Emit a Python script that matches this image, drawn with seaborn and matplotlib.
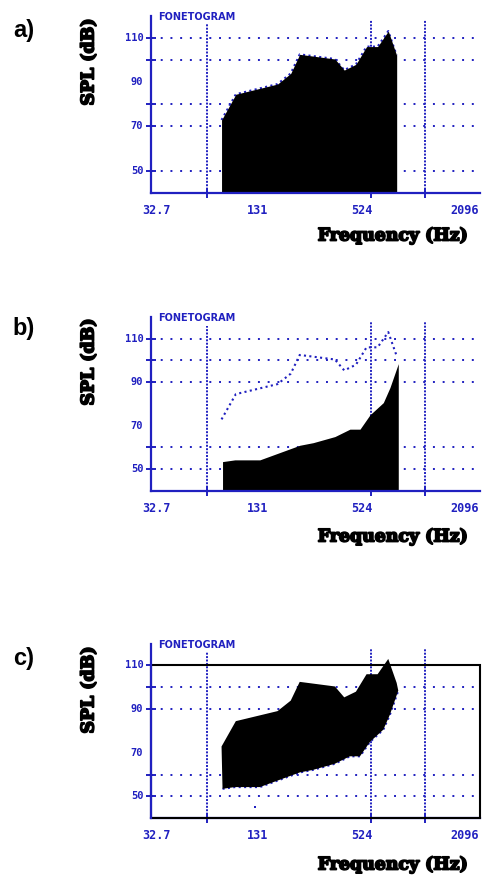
import matplotlib
matplotlib.use("Agg")
import matplotlib.pyplot as plt
import matplotlib.patheffects as pe
from matplotlib.patches import Rectangle
from matplotlib.ticker import NullLocator, FixedLocator, NullFormatter
import pandas as pd
import seaborn as sns

# ---- voice range profile data (frequency in Hz, SPL in dB) ----
upper_freq = [78.9, 94.6, 160.7, 190, 213, 333, 375, 435, 498, 573, 656, 730]
upper_spl = [72.9, 84.5, 89.1, 93.9, 102.5, 100.4, 95.4, 98.0, 106.0, 106.0, 113.0, 102.0]

lower_freq = [79.9, 93.4, 128.3, 213, 252.7, 333, 403, 458, 520, 616, 670, 745]
lower_spl = [53.5, 54.3, 54.3, 61.0, 62.2, 65.0, 68.4, 68.4, 75.0, 80.6, 87.5, 98.5]

stray_freq = [120]
stray_spl = [45.1]

# axis annotation
x_label_vals = [32.7, 131, 524, 2096]
x_label_text = ["32.7", "131", "524", "2096"]
x_grid_vals = [65.4, 524, 1048]
y_label_vals = [110, 90, 70, 50]
y_label_text = ["110", "90", "70", "50"]
y_grid_a = [110, 100, 80, 70, 50]
y_grid_bc = [110, 100, 90, 60, 50]
panel_names = ["a)", "b)", "c)"]

upper = pd.DataFrame({"freq": upper_freq, "spl": upper_spl})
lower = pd.DataFrame({"freq": lower_freq, "spl": lower_spl})

sns.set_theme(style="white")
plt.rcParams["font.family"] = ["DejaVu Sans"]
plt.rcParams["text.color"] = "black"

BLUE = "#2020c0"
W, H = 486, 876
fig = plt.figure(figsize=(W / 100, H / 100), dpi=100)
fig.patch.set_facecolor("white")

XMIN, XMAX = 32.2, 2104
YMIN, YMAX = 40, 120

# pixel layout of the three panels: (x-axis row, px per dB, label rows)
layout = [
    dict(base=192.9, scale=2.217, tag_y=31, spl_y=62, freq_y=236, grid=y_grid_a),
    dict(base=491.0, scale=2.177, tag_y=328, spl_y=362, freq_y=537, grid=y_grid_bc),
    dict(base=818.3, scale=2.183, tag_y=658, spl_y=690, freq_y=865, grid=y_grid_bc),
]

heavy = [pe.withStroke(linewidth=1.3, foreground="black")]
x_off = [3, -3, -6.5, -11]

for i, cfg in enumerate(layout):
    h_px = (YMAX - YMIN) * cfg["scale"]
    ax = fig.add_axes([151 / W, (H - cfg["base"]) / H, 329 / W, h_px / H])
    ax.set_facecolor("none")
    ax.set_xscale("log", base=2)
    ax.set_xlim(XMIN, XMAX)
    ax.set_ylim(YMIN, YMAX)

    # dotted reference grid
    for yv in cfg["grid"]:
        ax.plot([XMIN, XMAX], [yv, yv], color=BLUE, lw=1.4,
                linestyle=(0, (1, 4)), zorder=1)
    for k, xv in enumerate(x_grid_vals):
        top = 116 if k == 0 else 118
        ax.plot([xv, xv], [YMIN, top], color=BLUE, lw=1.4,
                linestyle=(0, (1, 0.75)), zorder=1)

    # contours
    if i == 0:
        ax.fill_between(upper["freq"], YMIN, upper["spl"], color="black",
                        lw=0, zorder=2)
        sns.lineplot(data=upper, x="freq", y="spl", ax=ax, color=BLUE, lw=1.5,
                     linestyle=(0, (1, 1.6)), sort=False, zorder=1.5)
    elif i == 1:
        ax.fill_between(lower["freq"], YMIN, lower["spl"], color="black",
                        lw=0, zorder=2)
        sns.lineplot(data=upper, x="freq", y="spl", ax=ax, color=BLUE, lw=1.5,
                     linestyle=(0, (1, 1.6)), sort=False, zorder=3)
    else:
        poly_x = list(upper["freq"]) + list(lower["freq"][::-1])
        poly_y = list(upper["spl"]) + list(lower["spl"][::-1])
        ax.fill(poly_x, poly_y, color="black", lw=0, zorder=2)
        sns.lineplot(data=lower, x="freq", y="spl", ax=ax, color=BLUE, lw=1.5,
                     linestyle=(0, (1, 1.6)), sort=False, zorder=1.5)
        ax.scatter(stray_freq, stray_spl, s=4, marker="s", color=BLUE,
                   lw=0, zorder=3)
        ax.add_patch(Rectangle((XMIN, YMIN), XMAX - XMIN, 110 - YMIN,
                               fill=False, edgecolor="black", lw=1.5,
                               zorder=2.6, clip_on=False))

    # axes lines
    for s in ["top", "right"]:
        ax.spines[s].set_visible(False)
    for s in ["left", "bottom"]:
        ax.spines[s].set_color(BLUE)
        ax.spines[s].set_linewidth(1.6)
    ax.spines["left"].set_zorder(3)

    ax.xaxis.set_major_locator(FixedLocator(x_grid_vals))
    ax.xaxis.set_major_formatter(NullFormatter())
    ax.xaxis.set_minor_locator(NullLocator())
    ax.set_yticks(cfg["grid"])
    ax.set_yticklabels([])
    ax.tick_params(axis="both", which="major", direction="inout", length=7,
                   width=1.4, color=BLUE, left=True, bottom=True)
    ax.set_xlabel("")
    ax.set_ylabel("")

    # tick labels
    for xv, txt, dx in zip(x_label_vals, x_label_text, x_off):
        ax.annotate(txt, xy=(xv, YMIN), xycoords="data", xytext=(dx, -12.7),
                    textcoords="offset points", ha="center", va="center",
                    fontsize=8.5, color=BLUE, family="DejaVu Sans Mono",
                    weight="bold", annotation_clip=False)
    for yv, txt in zip(y_label_vals, y_label_text):
        ax.annotate(txt, xy=(0, yv), xycoords=("axes fraction", "data"),
                    xytext=(-5.5, 0), textcoords="offset points",
                    ha="right", va="center", fontsize=7.5, color=BLUE,
                    family="DejaVu Sans Mono", weight="bold",
                    annotation_clip=False)

    ax.annotate("FONETOGRAM", xy=(0, 1), xycoords="axes fraction",
                xytext=(5, -1), textcoords="offset points", ha="left",
                va="center", fontsize=7, color=BLUE, weight="bold",
                annotation_clip=False)

    # panel tag and axis titles
    fig.text(24 / W, 1 - cfg["tag_y"] / H, panel_names[i], fontsize=17,
             weight="bold", family="Liberation Sans", ha="center",
             va="center", color="black")
    fig.text(89 / W, 1 - cfg["spl_y"] / H, "SPL (dB)", rotation=90,
             fontsize=12.5, weight="bold", family="DejaVu Serif",
             ha="center", va="center", color="black", path_effects=heavy)
    fig.text(393 / W, 1 - cfg["freq_y"] / H, "Frequency (Hz)", fontsize=12.5,
             weight="bold", family="DejaVu Serif", ha="center", va="center",
             color="black", path_effects=heavy)

fig.savefig("out.png", dpi=100, facecolor="white")
